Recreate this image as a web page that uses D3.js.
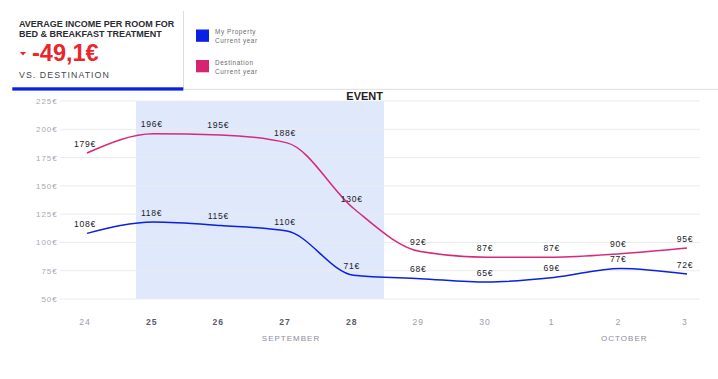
<!DOCTYPE html>
<html>
<head>
<meta charset="utf-8">
<script src="https://cdn.jsdelivr.net/npm/d3@7/dist/d3.min.js"></script>
<style>
  html, body { margin: 0; padding: 0; background: #fff; }
  svg { display: block; font-family: "Liberation Sans", Arial, Helvetica, sans-serif; }
</style>
</head>
<body>
<svg id="chart" width="718" height="379"></svg>
<script>
// ---- data ----
const days = ["24", "25", "26", "27", "28", "29", "30", "1", "2", "3"];
const myProperty = [108, 118, 115, 110, 71, 68, 65, 69, 77, 72];
const destination = [179, 196, 195, 188, 130, 92, 87, 87, 90, 95];
const yTicks = [50, 75, 100, 125, 150, 175, 200, 225];
const eventDays = ["25", "26", "27", "28"];
const months = [
  { label: "SEPTEMBER", from: "24", to: "30" },
  { label: "OCTOBER", from: "1", to: "3" }
];
const titleLines = ["AVERAGE INCOME PER ROOM FOR", "BED & BREAKFAST TREATMENT"];
const deltaText = "-49,1€";
const vsText = "VS. DESTINATION";
const legendItems = [
  { name: "My Property", sub: "Current year", color: "#0a20e3" },
  { name: "Destination", sub: "Current year", color: "#d6256f" }
];

// ---- drawing ----
const svg = d3.select("#chart");
const W = 718, H = 379;
svg.append("rect").attr("width", W).attr("height", H).attr("fill", "#fff");

// header
const hdr = svg.append("g");
hdr.selectAll("text.title").data(titleLines).join("text")
  .attr("x", 19).attr("y", (d, i) => 27 + i * 9.5)
  .attr("font-size", 9).attr("font-weight", "bold").attr("fill", "#2b2b33")
  .text(d => d);
hdr.append("path").attr("d", "M20,52 L26,52 L23,55.5 Z").attr("fill", "#e8262b");
hdr.append("text").attr("x", 32).attr("y", 61)
  .attr("font-size", 23.5).attr("font-weight", "bold").attr("fill", "#e8262b")
  .text(deltaText);
hdr.append("text").attr("x", 19).attr("y", 78.3)
  .attr("font-size", 8.8).attr("letter-spacing", 1.05).attr("fill", "#46464f")
  .text(vsText);
hdr.append("line").attr("x1", 183.5).attr("x2", 183.5).attr("y1", 11).attr("y2", 89)
  .attr("stroke", "#dcdcdc").attr("stroke-width", 1);
hdr.append("line").attr("x1", 183).attr("x2", W).attr("y1", 89.3).attr("y2", 89.3)
  .attr("stroke", "#dedede").attr("stroke-width", 1);
hdr.append("rect").attr("x", 12.3).attr("y", 87.3).attr("width", 171).attr("height", 3.3)
  .attr("fill", "#0a20e3");

// legend
const leg = svg.append("g").selectAll("g").data(legendItems).join("g")
  .attr("transform", (d, i) => `translate(196,${29.5 + i * 30.5})`);
leg.append("rect").attr("width", 13).attr("height", 12.3).attr("fill", d => d.color);
leg.append("text").attr("x", 19).attr("y", 4.6).attr("font-size", 6.4)
  .attr("letter-spacing", 0.6).attr("fill", "#6b6b72").text(d => d.name);
leg.append("text").attr("x", 19).attr("y", 13.6).attr("font-size", 6.4)
  .attr("letter-spacing", 0.6).attr("fill", "#6b6b72").text(d => d.sub);

// scales
const x = d3.scalePoint().domain(days).range([87, 687]);
const y = d3.scaleLinear().domain([50, 225]).range([299, 101]);
const step = x.step();

// event band
const evX0 = x(eventDays[0]) - step * 0.265;
const evX1 = x(eventDays[eventDays.length - 1]) + step * 0.455;
svg.append("rect").attr("x", evX0).attr("y", y(225)).attr("width", evX1 - evX0)
  .attr("height", y(50) - y(225)).attr("fill", "#dfe9fb");
svg.append("text").attr("x", evX1 - 1).attr("y", 100.3).attr("text-anchor", "end")
  .attr("font-size", 11).attr("font-weight", "bold").attr("fill", "#1e1e24").text("EVENT");

// grid + y labels
const grid = svg.append("g");
grid.selectAll("line").data(yTicks).join("line")
  .attr("x1", 60).attr("x2", 700).attr("y1", d => y(d)).attr("y2", d => y(d))
  .attr("stroke", "#ebebee").attr("stroke-width", 1);
grid.selectAll("text").data(yTicks).join("text")
  .attr("x", 57.5).attr("y", d => y(d) + 3).attr("text-anchor", "end")
  .attr("font-size", 8).attr("letter-spacing", 0.9).attr("fill", "#a7a7b6")
  .text(d => d + "€");

// x labels
svg.append("g").selectAll("text").data(days).join("text")
  .attr("x", d => x(d) - 2).attr("y", 324.5).attr("text-anchor", "middle")
  .attr("font-size", 8.6).attr("letter-spacing", 1)
  .attr("font-weight", d => eventDays.includes(d) ? "bold" : "normal")
  .attr("fill", d => eventDays.includes(d) ? "#5b5b6c" : "#9c9cab")
  .text(d => d);
svg.append("g").selectAll("text").data(months).join("text")
  .attr("x", d => (x(d.from) + x(d.to)) / 2 + 4).attr("y", 340.5).attr("text-anchor", "middle")
  .attr("font-size", 8).attr("letter-spacing", 1).attr("fill", "#8d8da2")
  .text(d => d.label);

// lines
const line = d3.line().x((d, i) => x(days[i])).y(d => y(d)).curve(d3.curveMonotoneX);
const series = [
  { values: destination, color: "#d8287a" },
  { values: myProperty, color: "#0b20e0" }
];
series.forEach(s => {
  svg.append("path").attr("d", line(s.values)).attr("fill", "none")
    .attr("stroke", s.color).attr("stroke-width", 1.5);
  svg.append("g").selectAll("text").data(s.values).join("text")
    .attr("x", (d, i) => x(days[i]) - 2).attr("y", d => y(d) - 6.5)
    .attr("text-anchor", "middle").attr("font-size", 8.6).attr("letter-spacing", 0.7)
    .attr("fill", "#222228")
    .text(d => d + "€");
});
</script>
</body>
</html>
